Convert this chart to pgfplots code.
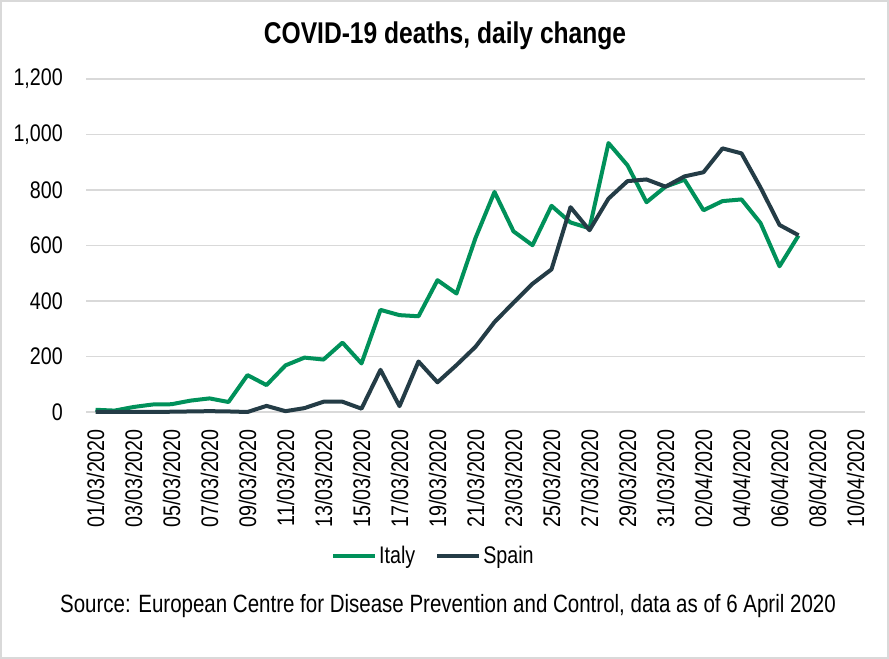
\documentclass[border=0pt]{standalone}
\usepackage{fontspec}
\setmainfont{Liberation Sans}[FakeStretch=0.82]
\usepackage{pgfplots}
\pgfplotsset{compat=1.18}
\definecolor{italy}{RGB}{0,145,90}
\definecolor{spain}{RGB}{36,60,70}
\definecolor{gridc}{RGB}{217,217,217}
\pgfplotstableread{
d italy spain
0 8 0
1 5 0
2 18 0
3 27 0
4 28 1
5 41 2
6 49 3
7 36 2
8 133 0
9 97 22
10 168 3
11 196 14
12 189 37
13 250 37
14 175 12
15 368 152
16 349 21
17 345 182
18 475 107
19 427 169
20 627 235
21 793 324
22 651 394
23 601 462
24 743 514
25 683 738
26 662 655
27 969 769
28 889 832
29 756 838
30 812 812
31 837 849
32 727 864
33 760 950
34 766 932
35 681 809
36 525 674
37 636 637
}\datatable
\begin{document}
\begin{tikzpicture}
\draw[gridc, line width=2bp, fill=white] (1bp,1bp) rectangle (888bp,658bp);
\node[font=\fontsize{30bp}{34bp}\selectfont\bfseries] at (445bp,623bp) {COVID-19 deaths, daily change};
\node[font=\fontsize{25bp}{28bp}\selectfont] at (448bp,53bp) {Source: European Centre for Disease Prevention and Control, data as of 6 April 2020};
\begin{axis}[
  at={(86bp,247bp)}, anchor=south west,
  scale only axis, width=779bp, height=333bp,
  xmin=-0.5, xmax=40.5, ymin=0, ymax=1200,
  axis line style={draw=none},
  clip=false,
  ymajorgrids, grid style={gridc, line width=1.5bp},
  ytick={0,200,...,1200},
  xtick={0,2,...,40},
  xticklabels={01/03/2020,03/03/2020,05/03/2020,07/03/2020,09/03/2020,11/03/2020,13/03/2020,15/03/2020,17/03/2020,19/03/2020,21/03/2020,23/03/2020,25/03/2020,27/03/2020,29/03/2020,31/03/2020,02/04/2020,04/04/2020,06/04/2020,08/04/2020,10/04/2020},
  major tick length=0pt,
  tick style={draw=none},
  /pgf/number format/.cd, 1000 sep={,}, assume math mode=true,
  /pgfplots/.cd,
  yticklabel style={font=\fontsize{24bp}{28bp}\selectfont, anchor=east, inner sep=0pt, xshift=-23bp},
  xticklabel style={font=\fontsize{24bp}{28bp}\selectfont, rotate=90, anchor=east, inner sep=0pt, xshift=-17bp},
  legend columns=2,
  legend style={draw=none, fill=none, at={(0.446,-0.432)}, anchor=center,
    font=\fontsize{24bp}{28bp}\selectfont, inner sep=0pt,
    /tikz/every even column/.append style={column sep=18bp}},
  legend image code/.code={\draw[#1] (0bp,0bp) -- (42bp,0bp);},
]
\addplot[italy, line width=4bp, line join=round] table[x=d, y=italy] {\datatable};
\addlegendentry{Italy}
\addplot[spain, line width=4bp, line join=round] table[x=d, y=spain] {\datatable};
\addlegendentry{Spain}
\end{axis}
\end{tikzpicture}
\end{document}
